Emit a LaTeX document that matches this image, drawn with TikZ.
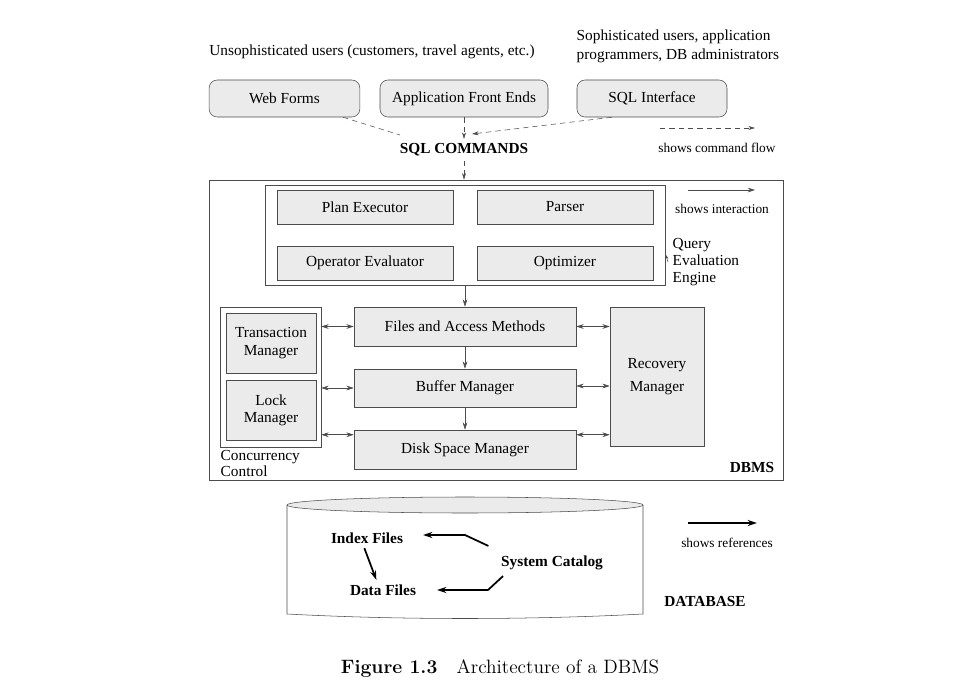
\documentclass[tikz,border=0pt]{standalone}
\usepackage{fontspec}
\newfontfamily\tmfont{Liberation Serif}
\usetikzlibrary{arrows.meta, calc}
\definecolor{boxgray}{gray}{0.92}
\definecolor{linegray}{gray}{0.3}

\begin{document}
\begin{tikzpicture}[x=0.75pt, y=-0.75pt,
	every node/.style={font=\tmfont\fontsize{11.5}{13}\selectfont},
	ifbox/.style={draw=linegray, fill=boxgray, rounded corners=6pt, inner sep=0pt, minimum height=27.75pt},
	modbox/.style={draw=linegray, fill=boxgray, inner sep=0pt},
	frame/.style={draw=linegray, inner sep=0pt},
	legend/.style={font=\tmfont\fontsize{10}{12}\selectfont},
	heavy/.style={font=\tmfont\bfseries\fontsize{11.5}{13}\selectfont},
	cmd/.style={draw=linegray, dash pattern=on 4pt off 3pt, -{Stealth[length=5pt,width=3pt]}},
	cmdline/.style={draw=linegray, dash pattern=on 4pt off 3pt},
	flow/.style={draw=linegray, -{Stealth[length=5.5pt,width=3.5pt]}},
	link/.style={draw=linegray, {Stealth[length=5.5pt,width=3.5pt]}-{Stealth[length=5.5pt,width=3.5pt]}},
	ref/.style={line width=1.3pt, -{Stealth[length=7pt,width=4.5pt]}}]
	\useasboundingbox (0,0) rectangle (978,692);

	% users and interfaces
	\node (naive) at (372,52) {Unsophisticated users (customers, travel agents, etc.)};
	\node[align=left, anchor=west, font=\tmfont\fontsize{11.5}{14}\selectfont] (expert) at (572,46.5) {Sophisticated users, application\\programmers, DB administrators};
	\node[ifbox, minimum width=113pt] (web) at (284.5,98.5) {Web Forms};
	\node[ifbox, minimum width=126pt] (front) at (464,98.5) {Application Front Ends};
	\node[ifbox, minimum width=112.5pt] (sqlif) at (652,98.5) {SQL Interface};
	\node[heavy] (sql) at (464,150) {SQL COMMANDS};
	\coordinate (webend) at (400,135);
	\coordinate (sqlifend) at (472,134);
	\draw[cmdline] ([xshift=-12.75pt]web.south east) -- (webend);
	\draw[cmd] (front.south) -- (sql.north);
	\draw[cmd] ([xshift=26.25pt]sqlif.south west) -- (sqlifend);

	% legends
	\coordinate (cf1) at (660,128);
	\coordinate (cf2) at (755,128);
	\draw[cmd] (cf1) -- (cf2);
	\node[legend] (cflabel) at (717,148) {shows command flow};

	% DBMS
	\node[frame, minimum width=430.5pt, minimum height=225pt] (dbms) at (496,330) {};
	\draw[cmd] (sql.south) -- (dbms.north -| sql.south);
	\node[heavy] (dbmslabel) at (752,467) {DBMS};

	\node[frame, minimum width=300pt, minimum height=75pt] (qee) at (465,235) {};
	\node[modbox, minimum width=132pt, minimum height=25.5pt] (plan) at (365,207) {Plan Executor};
	\node[modbox, minimum width=132pt, minimum height=25.5pt] (parser) at (565,207) {Parser};
	\node[modbox, minimum width=132pt, minimum height=25.5pt] (operator) at (365,263) {Operator Evaluator};
	\node[modbox, minimum width=132pt, minimum height=25.5pt] (optimizer) at (565,263) {Optimizer};
	\node[align=left, anchor=west, font=\tmfont\fontsize{11.5}{12.5}\selectfont] (qeelabel) at (668,262) {Query\\Evaluation\\Engine};
	\coordinate (qeetip) at (666,255);
	\draw[draw=linegray, -{Stealth[length=3pt,width=2pt]}] (qeelabel.west) -- (qeetip);

	\coordinate (in1) at (688,190);
	\coordinate (in2) at (755,190);
	\draw[flow] (in1) -- (in2);
	\node[legend] (inlabel) at (722,209) {shows interaction};

	\node[frame, minimum width=75.75pt, minimum height=105pt] (cc) at (270.5,377) {};
	\node[modbox, align=center, minimum width=67.5pt, minimum height=45pt] (trans) at (271,343) {Transaction\\Manager};
	\node[modbox, align=center, minimum width=67.5pt, minimum height=45pt] (lock) at (271,410) {Lock\\Manager};
	\node[align=left, anchor=north west, font=\tmfont\fontsize{11.5}{10}\selectfont] (cclabel) at (216,446) {Concurrency\\Control};

	\node[modbox, minimum width=166.5pt, minimum height=29.25pt] (files) at (465,326.5) {Files and Access Methods};
	\node[modbox, minimum width=166.5pt, minimum height=28.5pt] (buffer) at (465,388) {Buffer Manager};
	\node[modbox, minimum width=166.5pt, minimum height=29.25pt] (disk) at (465,449.5) {Disk Space Manager};
	\node[modbox, align=center, minimum width=70.5pt, minimum height=104.25pt, font=\tmfont\fontsize{11.5}{17}\selectfont] (recovery) at (657,376.5) {Recovery\\Manager};

	\draw[flow] (qee.south -| files.north) -- (files.north);
	\draw[flow] (files.south) -- (buffer.north);
	\draw[flow] (buffer.south) -- (disk.north);
	\coordinate (dl) at ([yshift=-3.75pt]disk.north west);
	\coordinate (dr) at ([yshift=-3.75pt]disk.north east);
	\coordinate (br) at ([yshift=1.5pt]buffer.east);
	\draw[link] (cc.east |- files.west) -- (files.west);
	\draw[link] (cc.east |- buffer.west) -- (buffer.west);
	\draw[link] (cc.east |- dl) -- (dl);
	\draw[link] (files.east) -- (recovery.west |- files.east);
	\draw[link] (br) -- (recovery.west |- br);
	\draw[link] (dr) -- (recovery.west |- dr);

	% database
	\draw[linegray, fill=white] (287,505) -- (287,614) .. controls (400,620) and (530,620) .. (643,614) -- (643,505);
	\draw[linegray, fill=boxgray] (465,505) ellipse [x radius=133.5pt, y radius=6pt];
	\node[heavy] (index) at (367,538) {Index Files};
	\node[heavy] (data) at (383,590) {Data Files};
	\node[heavy] (catalog) at (552,563) {System Catalog};
	\coordinate (ibend) at (465,535);
	\coordinate (itip) at (423,535);
	\coordinate (dbend) at (488,590);
	\coordinate (dtip) at (437,590);
	\draw[ref] ([xshift=-6pt,yshift=4pt]catalog.north west) -- (ibend) -- (itip);
	\draw[ref] ([xshift=5pt,yshift=-1pt]catalog.south west) -- (dbend) -- (dtip);
	\draw[ref] ([xshift=-2pt]index.south) -- ([xshift=-5pt]data.north);
	\node[heavy] (dblabel) at (705,601) {DATABASE};

	\coordinate (rf1) at (688,523);
	\coordinate (rf2) at (757,523);
	\draw[ref] (rf1) -- (rf2);
	\node[legend] (rflabel) at (727,543) {shows references};

	% caption
	\node[font=\rmfamily\fontsize{14.5}{16}\selectfont] (caption) at (500,669) {\textbf{Figure 1.3}\quad Architecture of a DBMS};
\end{tikzpicture}
\end{document}
